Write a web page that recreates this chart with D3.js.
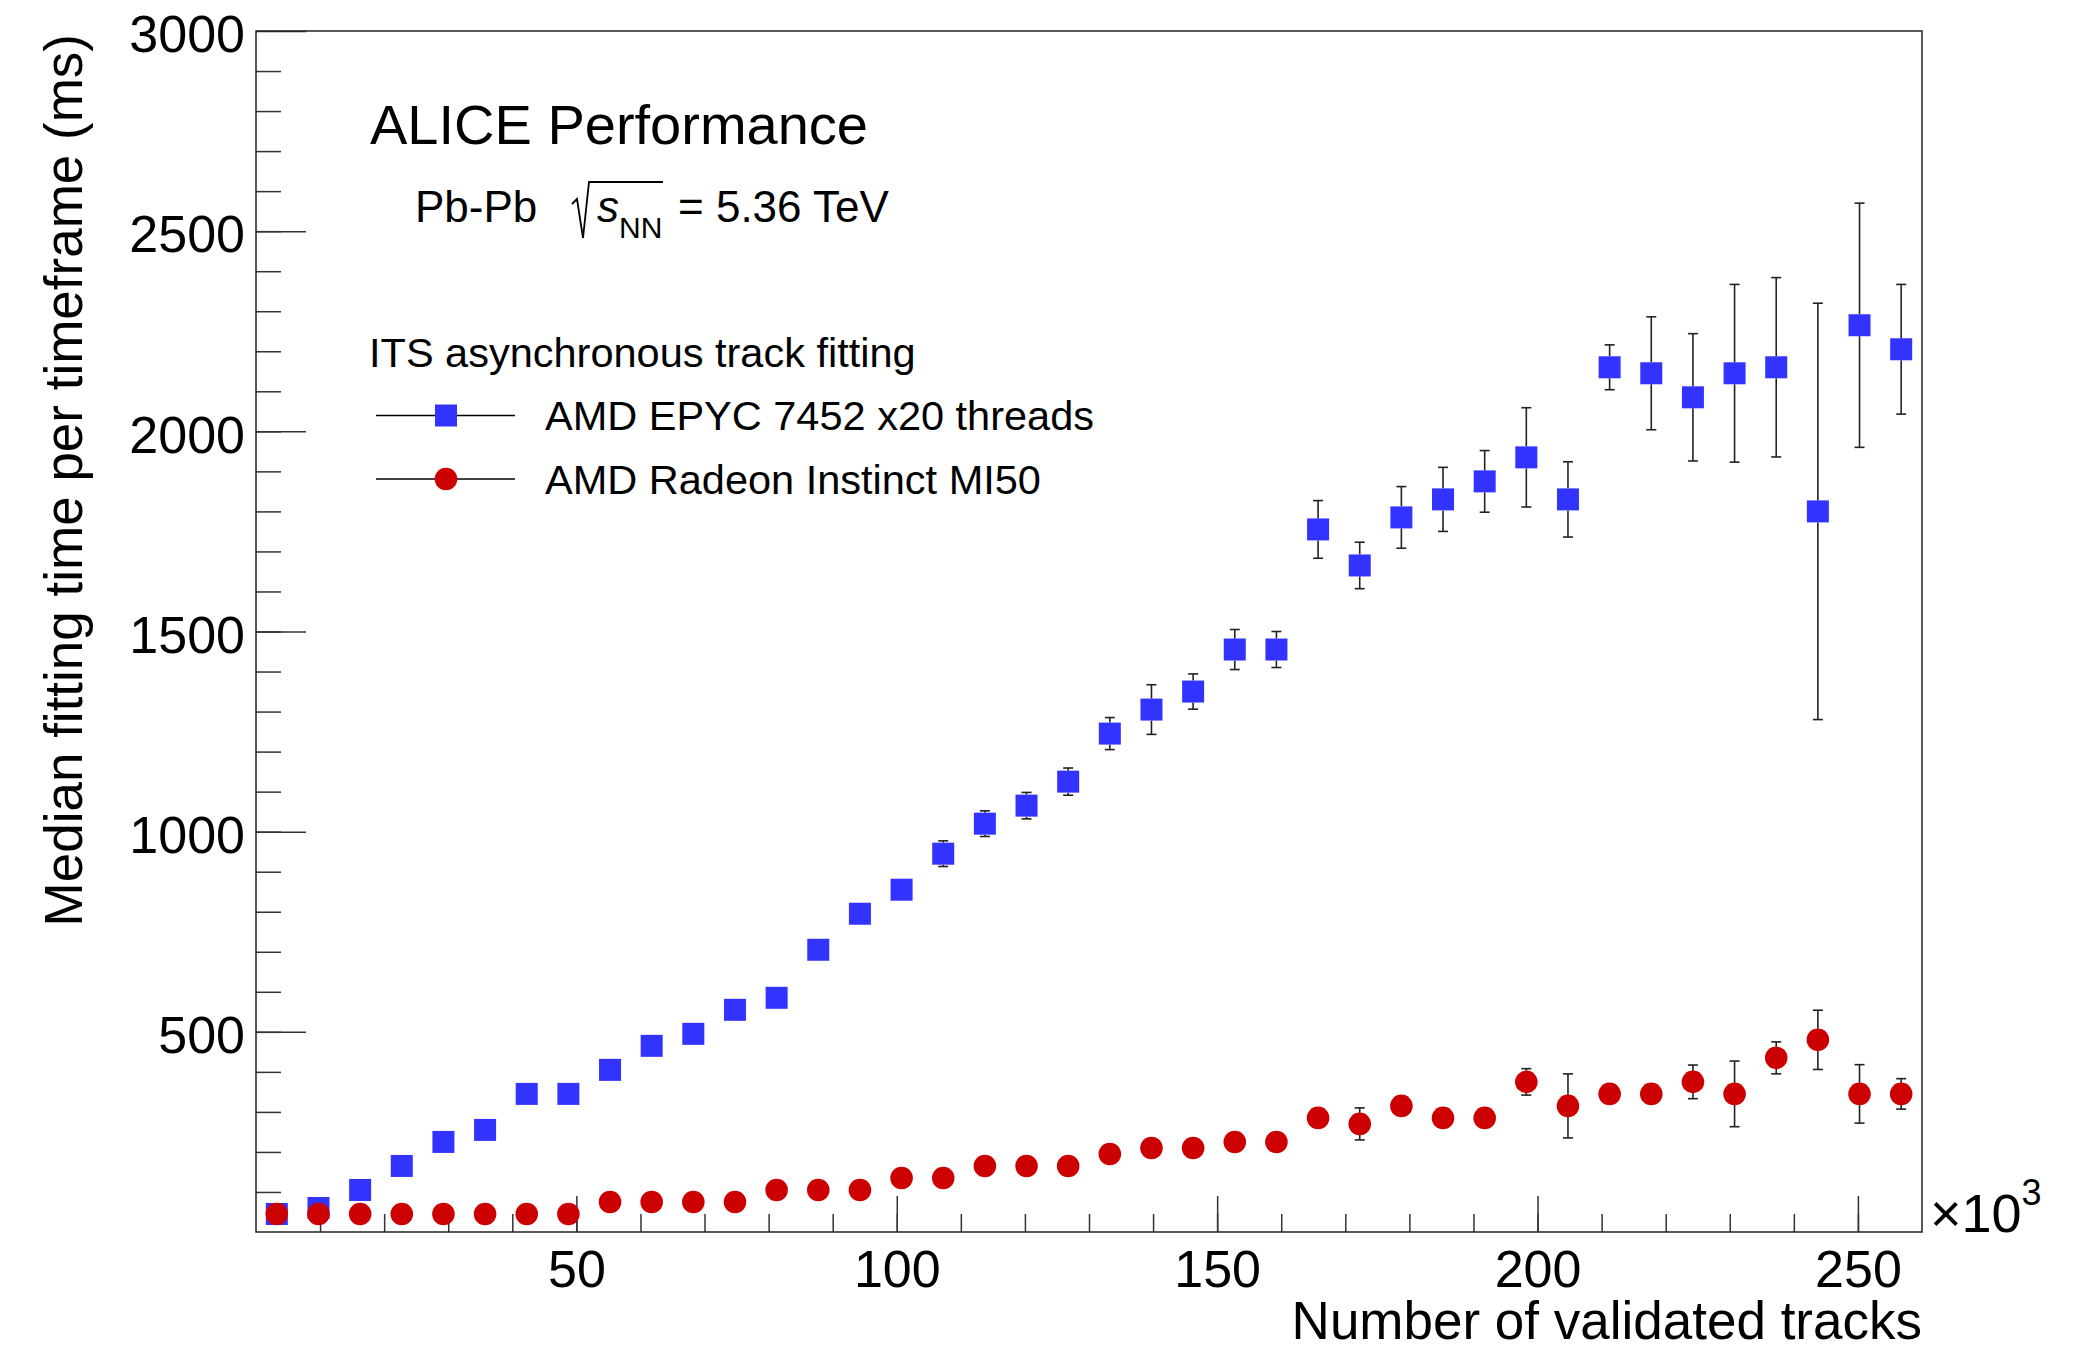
<!DOCTYPE html>
<html>
<head>
<meta charset="utf-8">
<script src="https://cdn.jsdelivr.net/npm/d3@7/dist/d3.min.js"></script>
<style>
  html, body { margin: 0; padding: 0; background: #fff; }
  svg { display: block; font-family: "Liberation Sans", Arial, Helvetica, sans-serif; }
</style>
</head>
<body>
<svg id="chart" width="2075" height="1351"></svg>
<script>
// ---- data (x in units of 10^3 validated tracks, y in ms) ----
const trackBins = [3.25, 9.75, 16.25, 22.75, 29.25, 35.75, 42.25, 48.75, 55.25, 61.75,
  68.25, 74.75, 81.25, 87.75, 94.25, 100.75, 107.25, 113.75, 120.25, 126.75,
  133.25, 139.75, 146.25, 152.75, 159.25, 165.75, 172.25, 178.75, 185.25, 191.75,
  198.25, 204.75, 211.25, 217.75, 224.25, 230.75, 237.25, 243.75, 250.25, 256.75];

const cpuTime = [45, 60, 105, 165, 225, 255, 345, 345, 405, 465,
  495, 555, 585, 705, 795, 855, 945, 1020, 1065, 1125,
  1245, 1305, 1350, 1455, 1455, 1755, 1665, 1785, 1830, 1875,
  1935, 1830, 2160, 2145, 2085, 2145, 2160, 1800, 2265, 2205];
const cpuErr = [5, 5, 6, 8, 8, 10, 10, 10, 12, 12,
  14, 14, 16, 18, 27, 20, 32, 32, 33, 34,
  40, 62, 44, 50, 45, 72, 58, 77, 80, 77,
  124, 94, 56, 141, 159, 222, 224, 520, 305, 162];

const gpuTime = [45, 45, 45, 45, 45, 45, 45, 45, 75, 75,
  75, 75, 105, 105, 105, 135, 135, 165, 165, 165,
  195, 210, 210, 225, 225, 285, 270, 315, 285, 285,
  375, 315, 345, 345, 375, 345, 435, 480, 345, 345];
const gpuErr = [2, 2, 2, 2, 2, 2, 3, 3, 3, 3,
  4, 4, 4, 5, 5, 6, 6, 8, 8, 8,
  10, 12, 12, 14, 14, 20, 40, 18, 16, 16,
  33, 80, 20, 22, 42, 82, 40, 74, 73, 38];

const xMajorTicks = [50, 100, 150, 200, 250];
const xMinorTicks = d3.range(10, 260, 10);
const yMajorTicks = [500, 1000, 1500, 2000, 2500, 3000];
const yMinorTicks = d3.range(100, 3000, 100);

const seriesNames = ["AMD EPYC 7452 x20 threads", "AMD Radeon Instinct MI50"];
const seriesColors = ["#3333ff", "#cc0000"];

// ---- layout ----
const svg = d3.select("#chart");
const L = 256, R = 1922, T = 31, B = 1232;
const x = d3.scaleLinear().domain([0, 260]).range([L, R]);
const y = d3.scaleLinear().domain([0, 3000]).range([B, T]);

const axisColor = "#333";

// minor & major ticks, x
const gx = svg.append("g").attr("transform", `translate(0,${B})`);
gx.call(d3.axisBottom(x).tickValues(xMinorTicks).tickSizeInner(-18).tickSizeOuter(0).tickFormat(""));
gx.call(g => g.select(".domain").remove());
const gx2 = svg.append("g").attr("transform", `translate(0,${B})`);
gx2.call(d3.axisBottom(x).tickValues(xMajorTicks).tickSizeInner(-36).tickSizeOuter(0).tickPadding(18).tickFormat(d3.format("d")));
gx2.call(g => g.select(".domain").remove());

const gy = svg.append("g").attr("transform", `translate(${L},0)`);
gy.call(d3.axisLeft(y).tickValues(yMinorTicks).tickSizeInner(-25).tickSizeOuter(0).tickFormat(""));
gy.call(g => g.select(".domain").remove());
const gy2 = svg.append("g").attr("transform", `translate(${L},0)`);
gy2.call(d3.axisLeft(y).tickValues(yMajorTicks).tickSizeInner(-50).tickSizeOuter(0).tickPadding(11).tickFormat(d3.format("d")));
gy2.call(g => g.select(".domain").remove());

svg.selectAll(".tick line").attr("stroke", axisColor).attr("stroke-width", 1.5);
gx2.selectAll(".tick text").attr("font-size", 52).attr("fill", "#000")
   .attr("font-family", "Liberation Sans, Arial, sans-serif");
gy2.selectAll(".tick text").attr("font-size", 52).attr("fill", "#000").attr("dy", "0.4em")
   .attr("font-family", "Liberation Sans, Arial, sans-serif");

// frame
svg.append("rect").attr("x", L).attr("y", T).attr("width", R - L).attr("height", B - T)
  .attr("fill", "none").attr("stroke", "#222").attr("stroke-width", 1.5);

// ---- data drawing ----
const half = 11;
function drawErrors(vals, errs) {
  const g = svg.append("g").attr("stroke", "#222").attr("stroke-width", 1.6).attr("fill", "none");
  trackBins.forEach((xv, i) => {
    const cx = x(xv), cy = y(vals[i]);
    const up = y(vals[i] + errs[i]), dn = y(vals[i] - errs[i]);
    if (cy - up > half) {
      g.append("line").attr("x1", cx).attr("x2", cx).attr("y1", cy - half).attr("y2", up);
      g.append("line").attr("x1", cx - 5).attr("x2", cx + 5).attr("y1", up).attr("y2", up);
    }
    if (dn - cy > half) {
      g.append("line").attr("x1", cx).attr("x2", cx).attr("y1", cy + half).attr("y2", dn);
      g.append("line").attr("x1", cx - 5).attr("x2", cx + 5).attr("y1", dn).attr("y2", dn);
    }
  });
}

drawErrors(cpuTime, cpuErr);
svg.append("g").selectAll("rect").data(trackBins).join("rect")
  .attr("x", (d) => x(d) - half).attr("y", (d, i) => y(cpuTime[i]) - half)
  .attr("width", 2 * half).attr("height", 2 * half).attr("fill", seriesColors[0]);

drawErrors(gpuTime, gpuErr);
svg.append("g").selectAll("circle").data(trackBins).join("circle")
  .attr("cx", (d) => x(d)).attr("cy", (d, i) => y(gpuTime[i]))
  .attr("r", 11.3).attr("fill", seriesColors[1]);

// ---- axis titles ----
svg.append("text").attr("x", R).attr("y", 1339).attr("text-anchor", "end")
  .attr("font-size", 53).text("Number of validated tracks");
svg.append("text").attr("transform", "translate(82,34) rotate(-90)").attr("text-anchor", "end")
  .attr("font-size", 53).text("Median fitting time per timeframe (ms)");
const mult = svg.append("text").attr("x", 1930).attr("y", 1232).attr("font-size", 54);
mult.append("tspan").text("×10");
mult.append("tspan").attr("font-size", 36).attr("dy", -27).text("3");

// ---- annotations ----
svg.append("text").attr("x", 370).attr("y", 144).attr("font-size", 56).text("ALICE Performance");
svg.append("text").attr("x", 415).attr("y", 222).attr("font-size", 44).text("Pb-Pb");
svg.append("path").attr("d", "M572,204 L577,199 L583,238 L589,182 L663,182")
  .attr("fill", "none").attr("stroke", "#000").attr("stroke-width", 1.8);
svg.append("text").attr("x", 597).attr("y", 222).attr("font-size", 44).attr("font-style", "italic").text("s");
svg.append("text").attr("x", 619).attr("y", 238).attr("font-size", 30).text("NN");
svg.append("text").attr("x", 678).attr("y", 222).attr("font-size", 44).text("= 5.36 TeV");

svg.append("text").attr("x", 369).attr("y", 367).attr("font-size", 41.5).text("ITS asynchronous track fitting");

// legend
const legY = [415.5, 479];
const leg = svg.append("g");
legY.forEach((ly, i) => {
  leg.append("line").attr("x1", 376).attr("x2", 515).attr("y1", ly).attr("y2", ly)
    .attr("stroke", "#000").attr("stroke-width", 1.5);
  if (i === 0) {
    leg.append("rect").attr("x", 446 - half).attr("y", ly - half).attr("width", 2 * half).attr("height", 2 * half)
      .attr("fill", seriesColors[0]);
  } else {
    leg.append("circle").attr("cx", 446).attr("cy", ly).attr("r", 11.3).attr("fill", seriesColors[1]);
  }
  leg.append("text").attr("x", 545).attr("y", ly + 14.5).attr("font-size", 41.5).text(seriesNames[i]);
});
</script>
</body>
</html>
